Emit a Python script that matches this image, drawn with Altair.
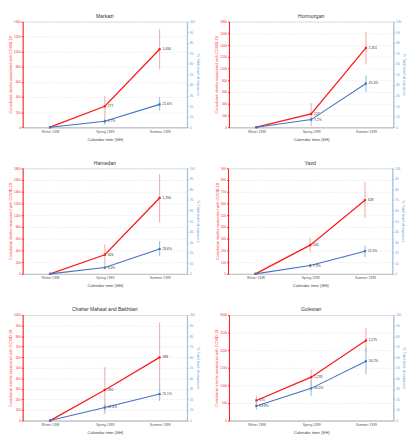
import altair as alt
import pandas as pd

seasons = ["Winter 1398", "Spring 1399", "Summer 1399"]
provinces = ["Markazi", "Hormozgan", "Hamedan", "Yazd",
             "Chahar Mahaal and Bakhtiari", "Golestan"]

# cumulative deaths (left axis) and % exposure (right axis), with interval bounds
deaths = {
    "Markazi": [0, 277, 1034],
    "Hormozgan": [0, 227, 1351],
    "Hamedan": [0, 326, 1294],
    "Yazd": [0, 245, 628],
    "Chahar Mahaal and Bakhtiari": [0, 290, 598],
    "Golestan": [571, 1233, 2275],
}
deaths_lo = {
    "Markazi": [0, 34, 769],
    "Hormozgan": [0, 16, 1070],
    "Hamedan": [0, 152, 876],
    "Yazd": [0, 185, 476],
    "Chahar Mahaal and Bakhtiari": [0, 63, 190],
    "Golestan": [435, 1006, 1931],
}
deaths_hi = {
    "Markazi": [0, 412, 1303],
    "Hormozgan": [0, 411, 1622],
    "Hamedan": [0, 500, 1702],
    "Yazd": [0, 307, 783],
    "Chahar Mahaal and Bakhtiari": [0, 505, 927],
    "Golestan": [707, 1450, 2637],
}
exposure = {
    "Markazi": [0, 5.7, 21.6],
    "Hormozgan": [0, 7.2, 41.4],
    "Hamedan": [0, 6.0, 23.6],
    "Yazd": [0, 7.9, 21.5],
    "Chahar Mahaal and Bakhtiari": [0, 12.4, 25.1],
    "Golestan": [13.9, 30.5, 56.2],
}
exposure_lo = {
    "Markazi": [0, 3.3, 15.9],
    "Hormozgan": [0, 5.1, 33.6],
    "Hamedan": [0, 4.5, 16.9],
    "Yazd": [0, 6.0, 16.0],
    "Chahar Mahaal and Bakhtiari": [0, 8.5, 18.7],
    "Golestan": [10.6, 23.6, 44.1],
}
exposure_hi = {
    "Markazi": [0, 7.8, 28.5],
    "Hormozgan": [0, 9.3, 48.9],
    "Hamedan": [0, 7.9, 31.1],
    "Yazd": [0, 9.4, 26.6],
    "Chahar Mahaal and Bakhtiari": [0, 16.0, 32.0],
    "Golestan": [18.1, 37.8, 68.9],
}
left_max = [1400, 1800, 1800, 900, 1000, 3000]
left_step = [200, 200, 200, 100, 100, 500]
right_ticks = list(range(0, 101, 10))

RED = "#ff1a1a"
RED_LIGHT = "#f6b3b3"
BLUE = "#4472c4"
BLUE_AX = "#5b9bd5"
BLUE_LIGHT = "#9dc3e6"
FONT = "Liberation Sans"
W, H = 168, 108


def panel(i, name):
    df = pd.DataFrame({
        "season": seasons,
        "d": deaths[name], "dlo": deaths_lo[name], "dhi": deaths_hi[name],
        "e": exposure[name], "elo": exposure_lo[name], "ehi": exposure_hi[name],
    })
    df["dlab"] = [f"{v:,.0f}" if v > 0 else "" for v in df["d"]]
    df["elab"] = [f"{v:.1f}%" if v > 0 else "" for v in df["e"]]

    x = alt.X("season:N", sort=seasons, scale=alt.Scale(type="point", padding=0.5),
              axis=alt.Axis(title="Calendar time (SH)", labelAngle=0, labelFontSize=3.4,
                            titleFontSize=4.3, titleFontWeight="normal", labelColor="#555",
                            titleColor="#444", domainColor="#c8c8c8", domainWidth=1.5,
                            tickSize=0, labelPadding=2, titlePadding=5, grid=False,
                            labelFont=FONT, titleFont=FONT))
    lscale = alt.Scale(domain=[0, left_max[i]], nice=False, zero=True)
    rscale = alt.Scale(domain=[0, 100], nice=False, zero=True)
    lvals = list(range(0, left_max[i] + 1, left_step[i]))

    laxis = alt.Axis(
        values=lvals, format="d", title="Cumulative deaths associated with COVID-19",
        orient="left", labelFontSize=3.1, titleFontSize=3.9,
        titleFontWeight="normal", labelColor=RED, titleColor=RED,
        domainColor=RED, tickColor=RED, tickSize=1.5, labelPadding=1,
        titlePadding=1, grid=True, gridDash=[1.5, 1.5], gridColor="#dcdcdc",
        gridWidth=0.6, labelFont=FONT, titleFont=FONT)
    raxis = alt.Axis(
        values=right_ticks, format="d", title="% Total level of exposure", orient="right",
        labelFontSize=3.1, titleFontSize=3.9, titleFontWeight="normal",
        labelColor=BLUE_AX, titleColor=BLUE_AX, domainColor=BLUE_LIGHT,
        domainWidth=1.2, tickColor=BLUE_LIGHT, tickSize=1.5, labelPadding=1,
        titlePadding=1, grid=False, labelFont=FONT, titleFont=FONT)

    base = alt.Chart(df)
    red = alt.layer(
        base.mark_rule(color=RED_LIGHT, strokeWidth=1.2).encode(
            x=x, y=alt.Y("dlo:Q", scale=lscale, axis=laxis), y2="dhi:Q"),
        base.mark_line(color=RED, strokeWidth=1.3, point=alt.OverlayMarkDef(
            shape="square", size=5, color=RED, filled=True)).encode(
            x=x, y=alt.Y("d:Q", scale=lscale, axis=laxis)),
        base.mark_text(align="left", dx=3, fontSize=3.4, color="#333", font=FONT).encode(
            x=x, y=alt.Y("d:Q", scale=lscale, axis=laxis), text="dlab:N"),
    )
    blue = alt.layer(
        base.mark_rule(color=BLUE_LIGHT, strokeWidth=1.2).encode(
            x=x, y=alt.Y("elo:Q", scale=rscale, axis=raxis), y2="ehi:Q"),
        base.mark_line(color=BLUE, strokeWidth=1.1, point=alt.OverlayMarkDef(
            shape="square", size=5, color=BLUE, filled=True)).encode(
            x=x, y=alt.Y("e:Q", scale=rscale, axis=raxis)),
        base.mark_text(align="left", dx=3, fontSize=3.4, color="#333", font=FONT).encode(
            x=x, y=alt.Y("e:Q", scale=rscale, axis=raxis), text="elab:N"),
    )
    return alt.layer(red, blue).resolve_scale(y="independent").properties(
        width=W, height=H,
        title=alt.TitleParams(name, fontSize=5.2, fontWeight="normal", color="#333",
                              font=FONT, offset=1.5))


panels = [panel(i, p) for i, p in enumerate(provinces)]
rows = [alt.hconcat(panels[k], panels[k + 1], spacing=14) for k in (0, 2, 4)]
chart = alt.vconcat(*rows, spacing=17).properties(padding=0).configure_view(
    stroke="#c8c8c8", strokeWidth=1.2).configure(background="white")

chart.save("out.html", embed_options={"renderer": "svg", "actions": False})
